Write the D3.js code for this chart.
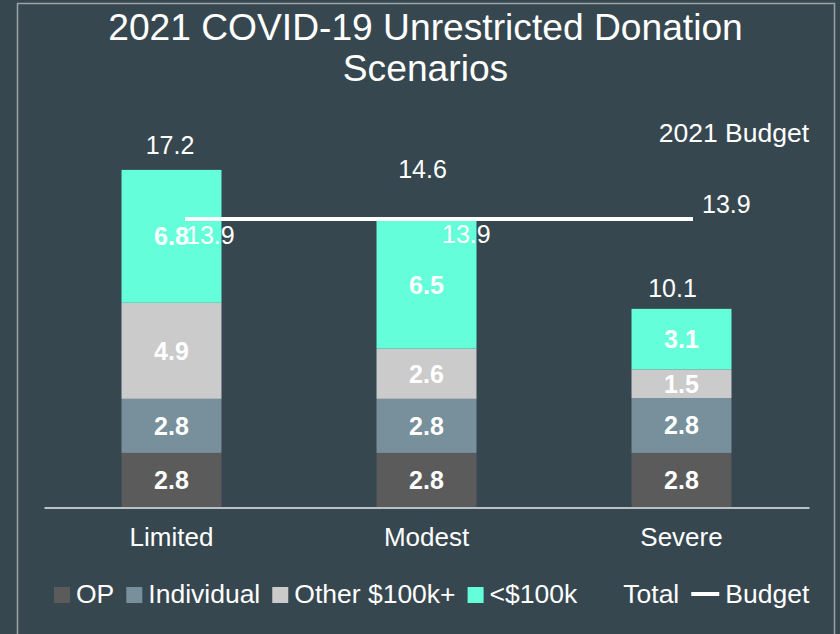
<!DOCTYPE html>
<html>
<head>
<meta charset="utf-8">
<script src="https://cdn.jsdelivr.net/npm/d3@7"></script>
<style>
  html, body { margin: 0; padding: 0; background: #37474f; }
  svg { display: block; font-family: "Liberation Sans", Arial, sans-serif; }
  text { fill: #ffffff; }
</style>
</head>
<body>
<svg id="chart"></svg>
<script>
// data
const categories = ["Limited", "Modest", "Severe"];
const opValues = [2.76, 2.76, 2.76];
const individualValues = [2.76, 2.76, 2.8];
const otherValues = [4.9, 2.56, 1.46];
const smallValues = [6.78, 6.53, 3.09];
const budgetValues = [13.9, 13.9, 13.9];
const seriesNames = ["OP", "Individual", "Other $100k+", "<$100k"];
const titleLines = ["2021 COVID-19 Unrestricted Donation", "Scenarios"];

const colors = ["#5b5b5b", "#78909c", "#cbcbcb", "#64ffda"];

const width = 840, height = 634;
const svg = d3.select("#chart").attr("width", width).attr("height", height);

// frame
svg.append("rect")
  .attr("x", 17.5).attr("y", 3.5)
  .attr("width", 817).attr("height", 640)
  .attr("fill", "none")
  .attr("stroke", "#9aa3a8")
  .attr("stroke-width", 1.5);

// title
svg.append("g").selectAll("text")
  .data(titleLines)
  .join("text")
  .attr("x", 425.5)
  .attr("y", (d, i) => 40 + i * 41)
  .attr("text-anchor", "middle")
  .attr("font-size", 37.2)
  .text(d => d);

// scales
const x = d3.scaleBand().domain(categories).range([44, 809])
  .paddingInner(0.608).paddingOuter(0.304);
const y = d3.scaleLinear().domain([0, 20]).range([507, 115]);
// budget line sits on a secondary axis
const x2 = d3.scalePoint().domain(categories).range([185, 693]);
const y2 = d3.scaleLinear().domain([0, 18.92]).range([507, 115]);

const rows = categories.map((c, i) => ({
  cat: c,
  "OP": opValues[i],
  "Individual": individualValues[i],
  "Other $100k+": otherValues[i],
  "<$100k": smallValues[i]
}));
const stacked = d3.stack().keys(seriesNames)(rows);
const fmt = d3.format(".1f");

// bars
const layers = svg.append("g").selectAll("g")
  .data(stacked)
  .join("g")
  .attr("fill", (d, i) => colors[i]);

layers.selectAll("rect")
  .data(d => d)
  .join("rect")
  .attr("x", d => x(d.data.cat))
  .attr("width", x.bandwidth())
  .attr("y", d => y(d[1]))
  .attr("height", d => y(d[0]) - y(d[1]));

// category axis
const axis = svg.append("g")
  .attr("transform", "translate(0,507.5)")
  .call(d3.axisBottom(x).tickSize(0).tickPadding(20.5));
axis.select(".domain").attr("stroke", "#e8e8e8").attr("stroke-width", 1.5);
axis.selectAll("text")
  .attr("fill", "#ffffff")
  .attr("font-size", 26)
  .attr("font-family", "Liberation Sans, Arial, sans-serif");

// budget line
const budgetLine = d3.line()
  .x((d, i) => x2(categories[i]))
  .y(d => y2(d));
svg.append("path")
  .datum(budgetValues)
  .attr("fill", "none")
  .attr("stroke", "#ffffff")
  .attr("stroke-width", 4)
  .attr("d", budgetLine);

// segment labels
layers.selectAll("text")
  .data(d => d)
  .join("text")
  .attr("x", d => x(d.data.cat) + x.bandwidth() / 2)
  .attr("y", d => (y(d[0]) + y(d[1])) / 2)
  .attr("dy", "0.36em")
  .attr("text-anchor", "middle")
  .attr("font-size", 25)
  .attr("font-weight", "bold")
  .text(d => fmt(d[1] - d[0]));

// totals
const totals = rows.map(r => d3.sum(seriesNames, k => r[k]));
const totalNudge = [[-1.5, -16], [-4, -43], [-9, -12]];
svg.append("g").selectAll("text")
  .data(totals)
  .join("text")
  .attr("x", (d, i) => x(categories[i]) + x.bandwidth() / 2 + totalNudge[i][0])
  .attr("y", (d, i) => y(d) + totalNudge[i][1])
  .attr("text-anchor", "middle")
  .attr("font-size", 25)
  .text(d => fmt(d));

// budget labels
const budgetNudge = [[1, 25], [3, 24], [9, -6]];
svg.append("g").selectAll("text")
  .data(budgetValues)
  .join("text")
  .attr("x", (d, i) => x2(categories[i]) + budgetNudge[i][0])
  .attr("y", (d, i) => y2(d) + budgetNudge[i][1])
  .attr("font-size", 25)
  .text(d => fmt(d));

svg.append("text")
  .attr("x", 809).attr("y", 142)
  .attr("text-anchor", "end")
  .attr("font-size", 26.5)
  .text("2021 Budget");

// legend
const legendItems = [
  { name: "OP", type: "rect", color: colors[0] },
  { name: "Individual", type: "rect", color: colors[1] },
  { name: "Other $100k+", type: "rect", color: colors[2] },
  { name: "<$100k", type: "rect", color: colors[3] },
  { name: "Total", type: "none" },
  { name: "Budget", type: "line", color: "#ffffff" }
];
const legend = svg.append("g");
let lx = 54;
const ly = 603;
legendItems.forEach(item => {
  const mw = item.type === "rect" ? 16 : 28;
  if (item.type === "rect") {
    legend.append("rect")
      .attr("x", lx).attr("y", ly - 16)
      .attr("width", 16).attr("height", 16)
      .attr("fill", item.color);
  } else if (item.type === "line") {
    legend.append("line")
      .attr("x1", lx).attr("x2", lx + mw)
      .attr("y1", ly - 9).attr("y2", ly - 9)
      .attr("stroke", item.color)
      .attr("stroke-width", 4);
  }
  const t = legend.append("text")
    .attr("x", lx + mw + 6)
    .attr("y", ly)
    .attr("font-size", 26.5)
    .text(item.name);
  lx = lx + mw + 6 + t.node().getComputedTextLength() + 12;
});
</script>
</body>
</html>
